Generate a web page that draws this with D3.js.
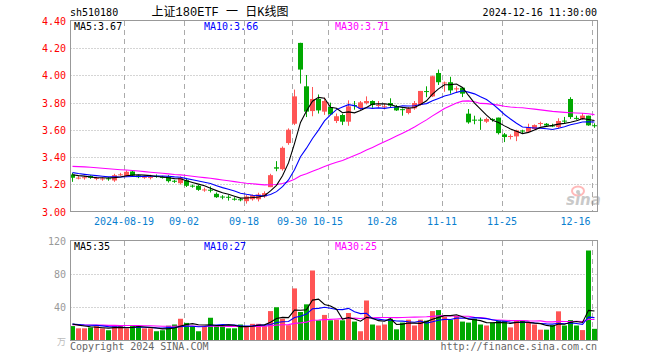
<!DOCTYPE html>
<html>
<head>
<meta charset="utf-8">
<script src="https://cdn.jsdelivr.net/npm/d3@7"></script>
<style>
  body { margin: 0; background: #fff; }
  text { font-family: "DejaVu Sans Mono", "Liberation Mono", monospace; }
</style>
</head>
<body>
<div id="container"></div>
<script>
/* DATA */
const dates = [
  "08-06","08-07","08-08","08-09","08-12","08-13","08-14","08-15","08-16","08-19",
  "08-20","08-21","08-22","08-23","08-26","08-27","08-28","08-29","08-30","09-02",
  "09-03","09-04","09-05","09-06","09-09","09-10","09-11","09-12","09-13","09-18",
  "09-19","09-20","09-23","09-24","09-25","09-26","09-27","09-30","10-08","10-09",
  "10-10","10-11","10-14","10-15","10-16","10-17","10-18","10-21","10-22","10-23",
  "10-24","10-25","10-28","10-29","10-30","10-31","11-01","11-04","11-05","11-06",
  "11-07","11-08","11-11","11-12","11-13","11-14","11-15","11-18","11-19","11-20",
  "11-21","11-22","11-25","11-26","11-27","11-28","11-29","12-02","12-03","12-04",
  "12-05","12-06","12-09","12-10","12-11","12-12","12-13","12-16"];

const open = [
  3.272,3.246,3.249,3.262,3.244,3.240,3.244,3.228,3.270,3.260,
  3.294,3.265,3.252,3.250,3.262,3.254,3.257,3.226,3.208,3.230,
  3.190,3.189,3.158,3.160,3.130,3.110,3.108,3.094,3.090,3.076,
  3.090,3.090,3.110,3.179,3.325,3.311,3.503,3.645,4.239,3.920,
  3.738,3.827,3.734,3.768,3.665,3.709,3.660,3.782,3.758,3.797,
  3.812,3.780,3.770,3.797,3.773,3.752,3.724,3.758,3.783,3.885,
  3.846,4.018,3.943,3.950,3.900,3.910,3.719,3.675,3.675,3.660,
  3.680,3.690,3.567,3.550,3.552,3.595,3.586,3.606,3.648,3.645,
  3.632,3.620,3.668,3.827,3.688,3.680,3.704,3.634];
const high = [
  3.284,3.260,3.262,3.266,3.255,3.252,3.252,3.277,3.284,3.302,
  3.300,3.270,3.264,3.270,3.272,3.262,3.267,3.232,3.258,3.247,
  3.198,3.195,3.175,3.184,3.140,3.120,3.120,3.105,3.100,3.120,
  3.125,3.138,3.148,3.277,3.370,3.478,3.611,3.896,4.240,4.003,
  3.915,3.860,3.837,3.800,3.720,3.719,3.817,3.812,3.812,3.846,
  3.817,3.812,3.792,3.832,3.783,3.758,3.768,3.812,3.886,3.920,
  3.999,4.043,3.955,3.990,3.920,3.915,3.753,3.704,3.690,3.690,
  3.685,3.690,3.577,3.567,3.601,3.601,3.645,3.640,3.660,3.650,
  3.645,3.685,3.695,3.840,3.704,3.724,3.704,3.648];
const low = [
  3.218,3.236,3.234,3.240,3.230,3.226,3.226,3.218,3.262,3.256,
  3.260,3.245,3.240,3.236,3.248,3.242,3.213,3.210,3.198,3.180,
  3.175,3.152,3.145,3.140,3.100,3.090,3.080,3.080,3.075,3.058,
  3.080,3.074,3.100,3.179,3.296,3.300,3.490,3.635,3.940,3.694,
  3.700,3.720,3.710,3.710,3.650,3.635,3.630,3.748,3.748,3.787,
  3.763,3.763,3.750,3.763,3.739,3.704,3.714,3.748,3.778,3.840,
  3.841,3.930,3.880,3.866,3.875,3.841,3.645,3.641,3.600,3.650,
  3.660,3.566,3.510,3.530,3.517,3.570,3.586,3.600,3.626,3.625,
  3.620,3.610,3.645,3.680,3.674,3.675,3.630,3.615];
const close = [
  3.248,3.249,3.252,3.248,3.247,3.243,3.240,3.267,3.273,3.292,
  3.265,3.252,3.255,3.253,3.259,3.250,3.223,3.223,3.248,3.189,
  3.186,3.159,3.162,3.155,3.105,3.105,3.104,3.090,3.088,3.110,
  3.120,3.125,3.135,3.267,3.315,3.468,3.601,3.846,4.043,3.734,
  3.827,3.743,3.812,3.714,3.700,3.660,3.773,3.777,3.802,3.812,
  3.783,3.783,3.773,3.778,3.743,3.748,3.758,3.797,3.886,3.880,
  3.994,3.950,3.948,3.890,3.905,3.866,3.655,3.670,3.668,3.680,
  3.675,3.576,3.547,3.555,3.596,3.590,3.620,3.635,3.650,3.632,
  3.628,3.665,3.663,3.694,3.684,3.705,3.633,3.628];
// volume, 万手
const volume = [
  17.3,14.6,14.6,15.7,17.3,14.6,12.3,17.3,17.3,14.6,
  17.3,17.3,14.6,14.6,11.1,12.3,17.7,19.2,26.1,21.1,
  17.3,11.1,17.3,27.3,17.3,17.3,14.6,14.6,19.2,17.3,
  20.0,20.0,17.3,35.3,39.9,26.1,18.4,62.5,34.2,43.4,
  84.0,24.2,30.7,24.2,25.0,24.2,33.0,22.7,11.1,48.0,
  19.2,18.0,19.2,26.1,13.4,21.5,25.0,18.0,25.0,23.8,
  35.3,36.5,28.4,25.0,29.6,22.7,21.5,26.1,19.2,18.0,
  21.5,23.8,23.8,15.7,23.8,23.8,21.5,19.2,13.0,13.0,
  18.5,35.0,18.0,24.5,18.0,12.5,108.0,14.0];

// sessions before 08-06 (not drawn), estimated so the moving averages start where the picture does
const julyClose = [3.30,3.31,3.33,3.34,3.36,3.35,3.37,3.38,3.37,3.36,
  3.38,3.37,3.39,3.38,3.36,3.37,3.35,3.34,3.33,3.34,
  3.32,3.31,3.30,3.29,3.29,3.28,3.27,3.28,3.27];
const julyVolume = [17.5,18.2,19.0,18.6,17.9,18.8,19.4,18.1,17.6,18.9,
  19.2,18.4,17.8,18.6,19.1,18.3,17.7,18.8,19.5,18.2,
  19.8,20.4,19.1,18.7,20.2,21.0,19.6,20.8,19.9];

const priceTicks = [3.00,3.20,3.40,3.60,3.80,4.00,4.20,4.40];
const volTicks = [40,80,120];
const tickDates = ["08-19","09-02","09-18","09-30","10-15","10-28","11-11","11-25","12-16"];
const tickLabels = ["2024-08-19","09-02","09-18","09-30","10-15","10-28","11-11","11-25","12-16"];
const maPeriods = [5,10,30];
const maColors = ["#000","#00f","#f0f"];

/* HELPERS */
function movingAvg(history, values, n) {
  const all = history.concat(values);
  return values.map((v, i) => d3.mean(all.slice(history.length + i - n + 1, history.length + i + 1)));
}

const rows = dates.map((d, i) => ({
  date: d, open: open[i], high: high[i], low: low[i], close: close[i], vol: volume[i],
  up: close[i] >= open[i]
}));
const red = "#ff5555", green = "#00a800";

/* SCALES */
const x = d3.scaleBand().domain(dates).range([69.5, 597.5]);
const cx = d => x(d) + 3;
const y = d3.scaleLinear().domain([3.0, 4.4]).range([211.5, 21]);
const yv = d3.scaleLinear().domain([0, 120]).range([340.5, 240.5]);

const svg = d3.select("#container").append("svg")
  .attr("width", 660).attr("height", 360)
  .style("background-color", "white");

/* GRID */
const grid = svg.append("g").attr("stroke", "#aaa").attr("fill", "none");
grid.selectAll(".hp").data(priceTicks.slice(1, -1)).join("line")
  .attr("x1", 70.5).attr("x2", 597.5)
  .attr("y1", d => Math.round(y(d)) + 0.5).attr("y2", d => Math.round(y(d)) + 0.5)
  .attr("stroke-dasharray", "1,2");
grid.selectAll(".hv").data(volTicks.slice(0, -1)).join("line")
  .attr("x1", 70.5).attr("x2", 597.5)
  .attr("y1", d => Math.round(yv(d)) + 0.5).attr("y2", d => Math.round(yv(d)) + 0.5)
  .attr("stroke-dasharray", "1,2");
tickDates.forEach(d => {
  const gx = x(d) + 1;
  grid.append("line").attr("x1", gx).attr("x2", gx).attr("y1", 21).attr("y2", 211)
    .attr("stroke-dasharray", "5,4");
  grid.append("line").attr("x1", gx).attr("x2", gx).attr("y1", 241).attr("y2", 340)
    .attr("stroke-dasharray", "5,4");
});

/* sina watermark */
const wm = svg.append("g").attr("opacity", 0.45);
wm.append("ellipse").attr("cx", 578).attr("cy", 191).attr("rx", 6).attr("ry", 4.5)
  .attr("fill", "none").attr("stroke", "#f66").attr("stroke-width", 2);
wm.append("circle").attr("cx", 578).attr("cy", 192).attr("r", 2).attr("fill", "#888");
wm.append("text").attr("x", 566).attr("y", 205)
  .style("font-family", "DejaVu Sans").style("font-size", "15px")
  .style("font-style", "italic").style("font-weight", "bold")
  .attr("fill", "#888").text("sina");

/* CANDLES */
const candles = svg.append("g");
candles.selectAll("line").data(rows).join("line")
  .attr("x1", d => cx(d.date)).attr("x2", d => cx(d.date))
  .attr("y1", d => y(d.high)).attr("y2", d => y(d.low))
  .attr("stroke", d => d.up ? red : green);
candles.selectAll("rect").data(rows).join("rect")
  .attr("x", d => x(d.date) + 0.5).attr("width", 5)
  .attr("y", d => y(Math.max(d.open, d.close)))
  .attr("height", d => Math.max(1, Math.abs(y(d.open) - y(d.close))))
  .attr("fill", d => d.up ? red : green);

/* VOLUME */
svg.append("g").selectAll("rect").data(rows).join("rect")
  .attr("x", d => x(d.date) + 0.5).attr("width", 5)
  .attr("y", d => yv(d.vol)).attr("height", d => yv(0) - yv(d.vol))
  .attr("fill", d => d.up ? red : green);

/* MOVING AVERAGES */
const priceMA = maPeriods.map(n => movingAvg(julyClose, close, n));
const volMA = maPeriods.map(n => movingAvg(julyVolume, volume, n));

priceMA.slice().reverse().forEach((ma, k) => {
  const i = 2 - k;
  svg.append("path").datum(ma)
    .attr("fill", "none").attr("stroke", maColors[i]).attr("stroke-width", 1.1)
    .attr("d", d3.line().x((v, j) => cx(dates[j])).y(v => y(v)));
});
volMA.slice().reverse().forEach((ma, k) => {
  const i = 2 - k;
  svg.append("path").datum(ma)
    .attr("fill", "none").attr("stroke", maColors[i]).attr("stroke-width", 1.1)
    .attr("d", d3.line().x((v, j) => cx(dates[j])).y(v => yv(v)));
});

/* BORDERS */
svg.append("rect").attr("x", 70.5).attr("y", 20.5).attr("width", 527).attr("height", 191)
  .attr("fill", "none").attr("stroke", "#999");
svg.append("rect").attr("x", 70.5).attr("y", 240.5).attr("width", 527).attr("height", 100)
  .attr("fill", "none").attr("stroke", "#999");

/* AXIS LABELS */
svg.append("g").selectAll("text").data(priceTicks).join("text")
  .attr("x", 66).attr("y", d => y(d) + 4).attr("text-anchor", "end")
  .attr("fill", "#f00").style("font-size", "10px")
  .text(d => d.toFixed(2));
svg.append("g").selectAll("text").data(volTicks).join("text")
  .attr("x", 66).attr("y", d => yv(d) + 4).attr("text-anchor", "end")
  .attr("fill", "#999").style("font-size", "10px")
  .text(d => d);
svg.append("text").attr("x", 66).attr("y", 345).attr("text-anchor", "end")
  .attr("fill", "#bbb").style("font-size", "9px").style("font-family", "Noto Sans CJK SC")
  .text("万");

svg.append("g").selectAll("text").data(tickDates).join("text")
  .attr("x", (d, i) => i === tickDates.length - 1 ? x(d) - 1 : x(d) + 0.5)
  .attr("y", 225)
  .attr("text-anchor", (d, i) => i === tickDates.length - 1 ? "end" : "middle")
  .attr("fill", "#0a7fd0").style("font-size", "10px")
  .text((d, i) => tickLabels[i]);

/* MA LEGENDS */
const last = a => a[a.length - 1];
const legendX = [74, 204, 335];
maPeriods.forEach((n, i) => {
  svg.append("text").attr("x", legendX[i]).attr("y", 30).attr("fill", maColors[i])
    .style("font-size", "10px").text("MA" + n + ":" + last(priceMA[i]).toFixed(2));
  svg.append("text").attr("x", legendX[i]).attr("y", 250).attr("fill", maColors[i])
    .style("font-size", "10px").text("MA" + n + ":" + Math.round(last(volMA[i])));
});

/* HEADER / FOOTER */
svg.append("text").attr("x", 70).attr("y", 16).attr("fill", "#000")
  .style("font-size", "10px").text("sh510180");
svg.append("text").attr("x", 220).attr("y", 16).attr("text-anchor", "middle").attr("fill", "#000")
  .style("font-size", "12px").style("font-family", "'Liberation Mono', 'Noto Sans CJK SC'")
  .text("上证180ETF 一 日K线图");
svg.append("text").attr("x", 597).attr("y", 16).attr("text-anchor", "end").attr("fill", "#000")
  .style("font-size", "10px").text("2024-12-16 11:30:00");
svg.append("text").attr("x", 70).attr("y", 350).attr("fill", "#666")
  .style("font-size", "10px").text("Copyright 2024 SINA.COM");
svg.append("text").attr("x", 597).attr("y", 350).attr("text-anchor", "end").attr("fill", "#666")
  .style("font-size", "10px").text("http://finance.sina.com.cn");
</script>
</body>
</html>
